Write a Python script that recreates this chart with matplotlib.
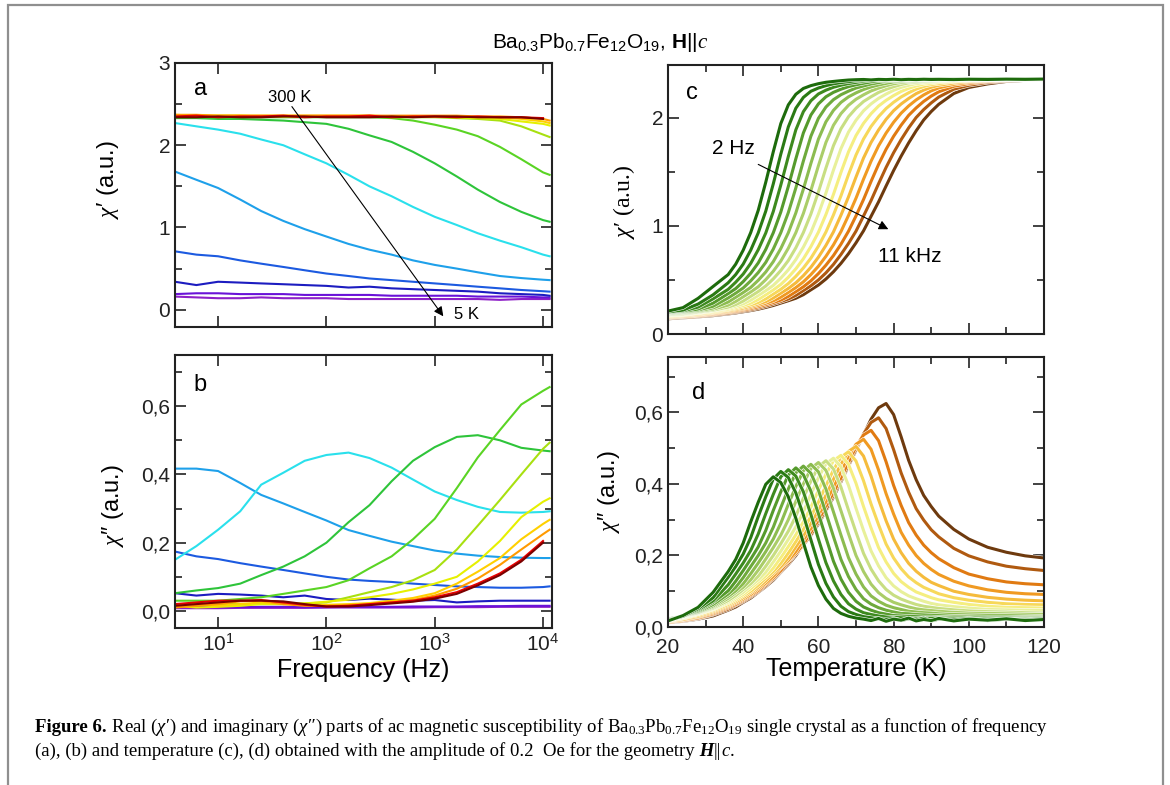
import numpy as np
import matplotlib
matplotlib.use('Agg')
import matplotlib.pyplot as plt
import matplotlib.patheffects as pe
from matplotlib.ticker import MultipleLocator, FixedLocator, NullLocator, FuncFormatter, LogFormatterSciNotation
from matplotlib.patches import Rectangle

plt.rcParams['font.family'] = ['Liberation Sans', 'DejaVu Sans']
plt.rcParams['mathtext.fontset'] = 'custom'
plt.rcParams['mathtext.rm'] = 'Liberation Sans'
plt.rcParams['mathtext.it'] = 'Liberation Serif:italic'
plt.rcParams['mathtext.bf'] = 'Liberation Sans:bold'
plt.rcParams['mathtext.sf'] = 'Liberation Serif'

nan = np.nan

# ---- panels a, b : chi vs frequency at several temperatures (300 K -> 5 K) ----
freq = [4, 6.3, 10, 16, 25, 40, 63, 100, 160, 250, 400, 630, 1000, 1600, 2500, 4000, 6300, 10000, 11500]

a_darkred = [2.34, 2.34, 2.35, 2.34, 2.34, 2.35, 2.35, 2.34, 2.34, 2.34, 2.35, 2.34, 2.35, 2.35, 2.34, 2.34, 2.34, 2.32, nan]
a_red = [2.35, 2.36, 2.34, 2.35, 2.35, 2.36, 2.34, 2.35, 2.35, 2.36, 2.34, 2.35, 2.35, 2.34, 2.35, 2.34, 2.34, 2.33, nan]
a_orange = [2.37, 2.37, 2.36, 2.36, 2.36, 2.36, 2.36, 2.36, 2.36, 2.36, 2.36, 2.36, 2.36, 2.36, 2.35, 2.35, 2.34, 2.32, 2.30]
a_gold = [2.37, 2.36, 2.36, 2.36, 2.36, 2.36, 2.36, 2.36, 2.36, 2.36, 2.35, 2.35, 2.35, 2.35, 2.34, 2.34, 2.32, 2.29, 2.27]
a_yellow = [2.36, 2.36, 2.36, 2.36, 2.35, 2.35, 2.35, 2.35, 2.35, 2.35, 2.35, 2.35, 2.35, 2.34, 2.33, 2.32, 2.29, 2.26, 2.24]
a_ygreen = [2.35, 2.35, 2.35, 2.35, 2.35, 2.35, 2.35, 2.35, 2.35, 2.35, 2.34, 2.34, 2.34, 2.33, 2.32, 2.30, 2.23, 2.13, 2.10]
a_lgreen = [2.34, 2.34, 2.34, 2.34, 2.34, 2.34, 2.34, 2.34, 2.34, 2.34, 2.33, 2.30, 2.25, 2.19, 2.11, 1.98, 1.83, 1.67, 1.64]
a_green = [2.33, 2.33, 2.32, 2.32, 2.31, 2.30, 2.28, 2.26, 2.20, 2.12, 2.04, 1.92, 1.78, 1.62, 1.46, 1.31, 1.19, 1.09, 1.07]
a_cyan = [2.27, 2.23, 2.19, 2.14, 2.07, 2.00, 1.89, 1.78, 1.64, 1.50, 1.38, 1.25, 1.13, 1.03, 0.93, 0.84, 0.76, 0.67, 0.65]
a_lblue = [1.68, 1.58, 1.48, 1.34, 1.20, 1.08, 0.98, 0.89, 0.80, 0.73, 0.67, 0.60, 0.545, 0.50, 0.455, 0.41, 0.385, 0.365, 0.36]
a_blue = [0.71, 0.67, 0.65, 0.60, 0.56, 0.52, 0.48, 0.44, 0.41, 0.38, 0.36, 0.34, 0.32, 0.30, 0.28, 0.26, 0.24, 0.225, 0.22]
a_dblue = [0.34, 0.30, 0.34, 0.33, 0.32, 0.31, 0.30, 0.29, 0.27, 0.28, 0.26, 0.25, 0.24, 0.23, 0.22, 0.20, 0.19, 0.18, 0.17]
a_violet = [0.19, 0.20, 0.20, 0.19, 0.19, 0.19, 0.18, 0.18, 0.18, 0.18, 0.17, 0.17, 0.17, 0.17, 0.16, 0.16, 0.16, 0.15, 0.15]
a_purple = [0.16, 0.15, 0.14, 0.14, 0.15, 0.14, 0.14, 0.14, 0.13, 0.13, 0.13, 0.13, 0.13, 0.13, 0.13, 0.12, 0.13, 0.13, 0.13]

b_darkred = [0.015, 0.02, 0.025, 0.03, 0.03, 0.028, 0.02, 0.013, 0.013, 0.017, 0.022, 0.027, 0.036, 0.05, 0.075, 0.105, 0.145, 0.20, nan]
b_red = [0.02, 0.025, 0.03, 0.03, 0.032, 0.025, 0.018, 0.013, 0.015, 0.02, 0.025, 0.03, 0.04, 0.055, 0.08, 0.11, 0.15, 0.205, nan]
b_orange = [0.01, 0.015, 0.02, 0.028, 0.03, 0.02, 0.015, 0.015, 0.017, 0.02, 0.025, 0.032, 0.045, 0.065, 0.095, 0.135, 0.18, 0.225, 0.238]
b_gold = [0.02, 0.02, 0.015, 0.02, 0.025, 0.02, 0.018, 0.018, 0.02, 0.023, 0.03, 0.038, 0.052, 0.08, 0.115, 0.155, 0.21, 0.255, 0.267]
b_yellow = [0.015, 0.01, 0.012, 0.015, 0.02, 0.02, 0.022, 0.027, 0.033, 0.04, 0.05, 0.063, 0.08, 0.10, 0.145, 0.205, 0.275, 0.32, 0.33]
b_ygreen = [0.02, 0.02, 0.02, 0.02, 0.02, 0.02, 0.022, 0.025, 0.04, 0.055, 0.07, 0.09, 0.12, 0.18, 0.25, 0.325, 0.40, 0.475, 0.493]
b_lgreen = [0.03, 0.03, 0.03, 0.035, 0.04, 0.05, 0.06, 0.07, 0.09, 0.125, 0.16, 0.21, 0.27, 0.36, 0.45, 0.53, 0.605, 0.645, 0.656]
b_green = [0.052, 0.06, 0.067, 0.08, 0.105, 0.13, 0.16, 0.20, 0.26, 0.31, 0.38, 0.44, 0.48, 0.51, 0.515, 0.50, 0.478, 0.47, 0.468]
b_cyan = [0.15, 0.19, 0.238, 0.292, 0.37, 0.405, 0.44, 0.457, 0.464, 0.448, 0.42, 0.385, 0.35, 0.325, 0.305, 0.29, 0.288, 0.29, 0.292]
b_lblue = [0.417, 0.417, 0.41, 0.375, 0.34, 0.315, 0.29, 0.265, 0.237, 0.22, 0.203, 0.19, 0.177, 0.168, 0.162, 0.158, 0.156, 0.155, 0.155]
b_blue = [0.174, 0.16, 0.152, 0.14, 0.13, 0.12, 0.11, 0.10, 0.092, 0.088, 0.085, 0.08, 0.076, 0.072, 0.07, 0.068, 0.068, 0.07, 0.072]
b_dblue = [0.052, 0.045, 0.05, 0.048, 0.045, 0.04, 0.045, 0.035, 0.032, 0.036, 0.033, 0.03, 0.032, 0.025, 0.028, 0.03, 0.03, 0.03, 0.03]
b_violet = [0.012, 0.012, 0.011, 0.011, 0.012, 0.012, 0.011, 0.011, 0.012, 0.012, 0.012, 0.013, 0.013, 0.013, 0.014, 0.014, 0.015, 0.015, 0.015]
b_purple = [0.008, 0.008, 0.008, 0.009, 0.009, 0.009, 0.009, 0.01, 0.01, 0.01, 0.01, 0.01, 0.011, 0.011, 0.011, 0.012, 0.012, 0.012, 0.012]

# drawing order: low temperature first, hot curves on top
freq_series = [
    (a_purple, b_purple, '#8e20c8'),
    (a_violet, b_violet, '#6a12d8'),
    (a_dblue, b_dblue, '#1c1cc0'),
    (a_blue, b_blue, '#1c5ae0'),
    (a_lblue, b_lblue, '#1ea0ea'),
    (a_cyan, b_cyan, '#2ae0ec'),
    (a_green, b_green, '#2ec43a'),
    (a_lgreen, b_lgreen, '#5ad424'),
    (a_ygreen, b_ygreen, '#a8e010'),
    (a_yellow, b_yellow, '#e6f000'),
    (a_gold, b_gold, '#ffd000'),
    (a_orange, b_orange, '#ff9a00'),
    (a_red, b_red, '#e60000'),
    (a_darkred, b_darkred, '#7a0000'),
]

# ---- panels c, d : chi vs temperature at frequencies 2 Hz -> 11 kHz ----
temp = [20, 24, 28, 32, 36, 38, 40, 42, 44, 46, 48, 50, 52, 54, 56, 58, 60, 62, 64, 66,
        68, 70, 72, 74, 76, 78, 80, 82, 84, 86, 88, 90, 92, 96, 100, 105, 110, 115, 120]

temp_colors = ['#1d6b0c', '#2a7a14', '#3d8a1e', '#559a2c', '#6eaa3c', '#8cbc50', '#aacd68', '#c8de82',
               '#e8f09a', '#f5ee80', '#f7d85a', '#f5bb3c', '#f09a22', '#e07a12', '#b05a10', '#6e3a0e']

chi1_T = [
    [.212, .244, .33, .44, .55, .646, .776, .939, 1.145, 1.405, 1.687, 1.948, 2.121, 2.219, 2.273, 2.299, 2.317, 2.330, 2.338, 2.345, 2.351, 2.354, 2.356, 2.352, 2.357, 2.355, 2.358, 2.354, 2.357, 2.355, 2.358, 2.356, 2.357, 2.355, 2.358, 2.356, 2.359, 2.357, 2.36],
    [.205, .221, .277, .363, .474, .550, .647, .776, .936, 1.137, 1.390, 1.665, 1.917, 2.090, 2.190, 2.247, 2.277, 2.299, 2.316, 2.327, 2.336, 2.345, 2.350, 2.353, 2.355, 2.355, 2.356, 2.356, 2.357, 2.357, 2.357, 2.358, 2.358, 2.358, 2.359, 2.359, 2.36, 2.36, 2.36],
    [.201, .214, .249, .326, .413, .479, .555, .654, .780, .935, 1.134, 1.379, 1.643, 1.890, 2.058, 2.159, 2.222, 2.257, 2.284, 2.303, 2.318, 2.329, 2.340, 2.349, 2.352, 2.355, 2.355, 2.356, 2.356, 2.357, 2.357, 2.357, 2.358, 2.358, 2.358, 2.359, 2.359, 2.36, 2.36],
    [.198, .210, .231, .286, .374, .420, .485, .562, .658, .783, .937, 1.129, 1.366, 1.622, 1.861, 2.027, 2.130, 2.196, 2.237, 2.266, 2.290, 2.307, 2.321, 2.334, 2.345, 2.347, 2.351, 2.355, 2.355, 2.356, 2.356, 2.357, 2.357, 2.358, 2.358, 2.359, 2.359, 2.36, 2.36],
    [.194, .205, .222, .257, .334, .378, .426, .492, .569, .663, .786, .938, 1.124, 1.352, 1.601, 1.831, 1.996, 2.101, 2.169, 2.215, 2.248, 2.277, 2.296, 2.314, 2.327, 2.340, 2.345, 2.347, 2.349, 2.352, 2.354, 2.355, 2.355, 2.356, 2.357, 2.358, 2.359, 2.36, 2.36],
    [.189, .200, .215, .241, .296, .340, .384, .431, .497, .574, .670, .791, .937, 1.121, 1.341, 1.579, 1.803, 1.964, 2.070, 2.144, 2.195, 2.232, 2.263, 2.287, 2.305, 2.320, 2.334, 2.340, 2.345, 2.347, 2.351, 2.353, 2.355, 2.356, 2.357, 2.358, 2.358, 2.359, 2.36],
    [.184, .195, .208, .230, .267, .301, .345, .389, .437, .503, .581, .675, .794, .938, 1.116, 1.328, 1.557, 1.773, 1.932, 2.040, 2.117, 2.173, 2.214, 2.250, 2.276, 2.298, 2.316, 2.329, 2.336, 2.340, 2.345, 2.349, 2.351, 2.354, 2.355, 2.356, 2.357, 2.358, 2.359],
    [.179, .188, .203, .221, .249, .272, .305, .349, .393, .444, .510, .588, .680, .798, .939, 1.111, 1.315, 1.536, 1.743, 1.900, 2.011, 2.090, 2.152, 2.196, 2.236, 2.265, 2.289, 2.309, 2.325, 2.331, 2.338, 2.342, 2.347, 2.351, 2.355, 2.356, 2.357, 2.358, 2.359],
    [.174, .182, .198, .216, .240, .258, .280, .313, .357, .401, .450, .517, .594, .689, .804, .939, 1.110, 1.304, 1.517, 1.716, 1.869, 1.979, 2.066, 2.130, 2.181, 2.221, 2.256, 2.283, 2.302, 2.318, 2.327, 2.333, 2.340, 2.349, 2.353, 2.355, 2.356, 2.357, 2.358],
    [.171, .179, .193, .208, .230, .246, .264, .286, .319, .363, .408, .459, .525, .603, .696, .809, .942, 1.106, 1.292, 1.496, 1.686, 1.837, 1.950, 2.039, 2.110, 2.163, 2.207, 2.245, 2.274, 2.296, 2.313, 2.322, 2.331, 2.342, 2.349, 2.353, 2.355, 2.356, 2.357],
    [.165, .174, .185, .201, .223, .236, .252, .270, .292, .325, .370, .414, .467, .534, .611, .702, .813, .944, 1.102, 1.279, 1.475, 1.657, 1.805, 1.921, 2.012, 2.087, 2.145, 2.194, 2.233, 2.267, 2.291, 2.309, 2.318, 2.336, 2.345, 2.351, 2.354, 2.356, 2.357],
    [.160, .169, .180, .196, .214, .227, .240, .258, .278, .300, .334, .378, .422, .474, .540, .618, .711, .820, .945, 1.100, 1.269, 1.453, 1.629, 1.773, 1.889, 1.987, 2.067, 2.129, 2.180, 2.225, 2.258, 2.284, 2.302, 2.324, 2.338, 2.349, 2.353, 2.356, 2.357],
    [.156, .163, .174, .189, .207, .218, .232, .247, .265, .285, .307, .341, .385, .430, .483, .550, .627, .719, .825, .948, 1.097, 1.257, 1.433, 1.599, 1.742, 1.860, 1.960, 2.044, 2.111, 2.167, 2.213, 2.251, 2.278, 2.311, 2.329, 2.344, 2.351, 2.354, 2.356],
    [.152, .161, .170, .183, .201, .210, .223, .236, .252, .272, .292, .314, .348, .392, .437, .492, .559, .637, .726, .831, .951, 1.093, 1.245, 1.412, 1.570, 1.710, 1.830, 1.933, 2.024, 2.093, 2.153, 2.202, 2.242, 2.293, 2.318, 2.338, 2.349, 2.353, 2.355],
    [.148, .154, .163, .177, .192, .203, .214, .226, .241, .259, .279, .301, .324, .357, .402, .446, .500, .566, .644, .736, .838, .952, 1.092, 1.235, 1.391, 1.542, 1.678, 1.799, 1.908, 2.004, 2.077, 2.139, 2.193, 2.266, 2.302, 2.329, 2.344, 2.351, 2.353],
    [.141, .150, .159, .170, .186, .195, .206, .217, .230, .246, .264, .286, .308, .331, .364, .409, .453, .509, .576, .654, .743, .844, .955, 1.089, 1.223, 1.370, 1.513, 1.646, 1.769, 1.881, 1.981, 2.059, 2.126, 2.226, 2.282, 2.315, 2.338, 2.348, 2.353],
]

chi2_T = [
    [.017, .032, .055, .097, .155, .189, .235, .294, .349, .399, .420, .404, .364, .304, .236, .168, .116, .078, .052, .038, .030, .025, .022, .018, .024, .016, .022, .019, .025, .017, .021, .018, .024, .017, .022, .019, .023, .018, .021],
    [.019, .030, .051, .082, .139, .169, .204, .250, .309, .364, .414, .435, .418, .375, .313, .244, .175, .122, .084, .058, .043, .035, .029, .026, .023, .022, .024, .018, .023, .020, .025, .017, .022, .020, .024, .018, .022, .020, .023],
    [.020, .030, .048, .073, .118, .148, .179, .214, .260, .317, .371, .420, .440, .422, .378, .315, .246, .180, .129, .091, .065, .050, .040, .035, .031, .028, .027, .026, .025, .025, .024, .024, .024, .023, .023, .022, .022, .022, .022],
    [.022, .030, .045, .069, .101, .128, .158, .190, .224, .270, .326, .378, .425, .445, .426, .380, .317, .250, .184, .134, .097, .072, .056, .047, .040, .036, .032, .031, .030, .029, .028, .028, .027, .026, .026, .025, .025, .024, .024],
    [.022, .030, .043, .063, .092, .111, .138, .169, .200, .235, .279, .334, .386, .431, .450, .430, .383, .319, .253, .189, .141, .105, .079, .064, .054, .047, .042, .038, .037, .035, .034, .033, .032, .030, .029, .028, .028, .027, .027],
    [.023, .030, .041, .059, .086, .101, .121, .149, .179, .211, .246, .290, .343, .393, .437, .455, .434, .386, .322, .257, .194, .148, .112, .087, .072, .061, .054, .049, .044, .042, .040, .039, .037, .035, .034, .033, .032, .031, .030],
    [.022, .029, .040, .056, .080, .096, .111, .132, .159, .190, .222, .257, .300, .351, .400, .443, .460, .438, .388, .325, .261, .200, .155, .120, .096, .080, .069, .062, .056, .051, .048, .046, .044, .041, .039, .038, .037, .036, .035],
    [.021, .029, .039, .053, .074, .088, .105, .121, .142, .170, .200, .233, .268, .310, .360, .408, .448, .465, .442, .391, .327, .265, .206, .162, .129, .105, .089, .078, .070, .063, .058, .055, .052, .048, .045, .043, .042, .040, .039],
    [.020, .027, .037, .051, .070, .083, .097, .115, .132, .153, .182, .212, .245, .280, .322, .371, .417, .456, .472, .448, .396, .332, .270, .213, .171, .138, .115, .099, .087, .079, .072, .066, .062, .057, .053, .049, .048, .047, .046],
    [.018, .025, .036, .049, .067, .078, .091, .107, .126, .143, .165, .194, .225, .258, .294, .335, .382, .427, .465, .480, .455, .402, .337, .277, .222, .182, .150, .127, .111, .098, .090, .082, .076, .069, .063, .058, .055, .054, .053],
    [.017, .024, .033, .046, .063, .074, .087, .100, .117, .137, .155, .178, .207, .239, .273, .309, .349, .395, .439, .475, .490, .464, .409, .344, .286, .232, .193, .163, .140, .124, .111, .102, .093, .082, .075, .069, .065, .063, .062],
    [.016, .021, .030, .043, .060, .070, .082, .096, .111, .129, .150, .169, .193, .224, .255, .290, .327, .368, .413, .456, .491, .505, .478, .422, .356, .297, .246, .208, .178, .156, .139, .125, .116, .100, .091, .083, .078, .075, .073],
    [.015, .020, .028, .040, .057, .067, .078, .091, .107, .123, .142, .166, .186, .211, .243, .275, .312, .350, .391, .435, .478, .511, .525, .497, .439, .373, .316, .265, .229, .200, .178, .161, .147, .128, .115, .104, .097, .093, .091],
    [.013, .018, .025, .037, .054, .063, .075, .088, .102, .120, .137, .158, .184, .205, .232, .265, .299, .337, .376, .417, .461, .504, .537, .550, .521, .462, .396, .340, .292, .257, .229, .208, .191, .166, .148, .135, .126, .121, .118],
    [.013, .017, .024, .035, .050, .061, .072, .085, .099, .116, .135, .155, .178, .206, .229, .258, .293, .328, .369, .411, .453, .497, .540, .572, .585, .555, .496, .431, .377, .331, .299, .272, .252, .220, .199, .182, .170, .163, .158],
    [.012, .016, .022, .031, .047, .056, .069, .081, .097, .113, .131, .153, .175, .200, .231, .256, .288, .325, .363, .406, .450, .494, .538, .581, .613, .625, .594, .532, .466, .412, .368, .337, .310, .273, .246, .223, .209, .199, .193],
]

W, H = 1170, 785
fig = plt.figure(figsize=(W / 100, H / 100), dpi=100)

def box(l, r, t, b):
    return [l / W, 1 - b / H, (r - l) / W, (b - t) / H]

ax_a = fig.add_axes(box(175, 552, 63, 327))
ax_b = fig.add_axes(box(175, 552, 355, 628))
ax_c = fig.add_axes(box(668, 1044, 65, 334))
ax_d = fig.add_axes(box(668, 1044, 357, 627))

comma = FuncFormatter(lambda v, p: f"{v:.1f}".replace('.', ','))

for ax in (ax_a, ax_b, ax_c, ax_d):
    ax.tick_params(which='both', direction='in', top=True, right=True, labelsize=15, width=1.2, colors='#222222')
    ax.tick_params(which='major', length=8)
    ax.tick_params(which='minor', length=5)
    for s in ax.spines.values():
        s.set_linewidth(1.5)
        s.set_color('#222222')

# frequency panels
for a_vals, b_vals, col in freq_series:
    ax_a.plot(freq, a_vals, color=col, lw=1.5)
    ax_b.plot(freq, b_vals, color=col, lw=1.5)

for ax in (ax_a, ax_b):
    ax.set_xscale('log')
    ax.set_xlim(4, 12100)
    ax.xaxis.set_major_locator(FixedLocator([10, 100, 1000, 10000]))
    ax.xaxis.set_minor_locator(NullLocator())
ax_b.xaxis.set_major_formatter(LogFormatterSciNotation())
ax_a.tick_params(labelbottom=False)

ax_a.set_ylim(-0.21, 3.0)
ax_a.yaxis.set_major_locator(MultipleLocator(1))
ax_a.yaxis.set_minor_locator(MultipleLocator(0.5))
ax_b.set_ylim(-0.05, 0.75)
ax_b.yaxis.set_major_locator(MultipleLocator(0.2))
ax_b.yaxis.set_minor_locator(MultipleLocator(0.1))
ax_b.yaxis.set_major_formatter(comma)

ax_a.set_ylabel("$\\chi$\u2032 (a.u.)", fontsize=17)
ax_a.yaxis.set_label_coords(-0.143, 0.56)
ax_b.set_ylabel("$\\chi$\u2033 (a.u.)", fontsize=17)
ax_b.yaxis.set_label_coords(-0.13, 0.45)
ax_b.set_xlabel('Frequency (Hz)', fontsize=18, labelpad=2)

ax_a.text(0.05, 0.9, 'a', transform=ax_a.transAxes, fontsize=17, ha='left', va='center')
ax_b.text(0.05, 0.89, 'b', transform=ax_b.transAxes, fontsize=17, ha='left', va='center')

ax_a.annotate('', xy=(1200, -0.08), xytext=(48, 2.47),
              arrowprops=dict(arrowstyle='-|>', color='black', lw=0.8, mutation_scale=14, shrinkA=0, shrinkB=0))
ax_a.text(46, 2.58, '300 K', fontsize=12, ha='center', va='center')
ax_a.text(1500, -0.06, '5 K', fontsize=12, ha='left', va='center')

# temperature panels (high frequency first so that green lies on top)
edge = [pe.Stroke(linewidth=3.0, foreground='white'), pe.Normal()]
for k in range(len(chi1_T) - 1, -1, -1):
    ax_c.plot(temp, chi1_T[k], color=temp_colors[k], lw=2.2, path_effects=edge)
    ax_d.plot(temp, chi2_T[k], color=temp_colors[k], lw=2.2, path_effects=edge)

for ax in (ax_c, ax_d):
    ax.set_xlim(20, 120)
    ax.xaxis.set_major_locator(MultipleLocator(20))
    ax.xaxis.set_minor_locator(MultipleLocator(10))
ax_c.tick_params(labelbottom=False)
ax_d.tick_params(axis='x', pad=8)

ax_c.set_ylim(0, 2.49)
ax_c.yaxis.set_major_locator(MultipleLocator(1))
ax_c.yaxis.set_minor_locator(MultipleLocator(0.5))
ax_d.set_ylim(0, 0.755)
ax_d.yaxis.set_major_locator(MultipleLocator(0.2))
ax_d.yaxis.set_minor_locator(MultipleLocator(0.1))
ax_d.yaxis.set_major_formatter(comma)

ax_c.set_ylabel("$\\chi$\u2032 (a.u.)", fontsize=17, family=['Liberation Serif', 'DejaVu Serif'])
ax_c.yaxis.set_label_coords(-0.082, 0.49)
ax_d.set_ylabel("$\\chi$\u2033 (a.u.)", fontsize=17)
ax_d.yaxis.set_label_coords(-0.122, 0.5)
ax_d.set_xlabel('Temperature (K)', fontsize=18, labelpad=0)

ax_c.text(0.048, 0.895, 'c', transform=ax_c.transAxes, fontsize=17, ha='left', va='center')
ax_d.text(0.065, 0.867, 'd', transform=ax_d.transAxes, fontsize=17, ha='left', va='center')

ax_c.annotate('', xy=(78.6, 0.97), xytext=(44.0, 1.57),
              arrowprops=dict(arrowstyle='-|>', color='black', lw=0.8, mutation_scale=14, shrinkA=0, shrinkB=0))
ax_c.text(37.4, 1.72, '2 Hz', fontsize=15, ha='center', va='center')
ax_c.text(84.4, 0.72, '11 kHz', fontsize=15, ha='center', va='center')

# title
fig.text(600 / W, 1 - 42 / H, r"Ba$_{0.3}$Pb$_{0.7}$Fe$_{12}$O$_{19}$, $\mathbf{H}||$$\mathit{c}$",
         fontsize=15, ha='center', va='center')

# outer frame
fig.add_artist(Rectangle((8 / W, -0.02), (1163 - 8) / W, 1 - 5 / H + 0.02, transform=fig.transFigure,
                         fill=False, edgecolor='#8f8f8f', lw=1.6))

# caption, drawn piece by piece
renderer = fig.canvas.get_renderer()
serif = ['Liberation Serif', 'DejaVu Serif']
cap_size = 13.5

def put_pieces(x, y, pieces):
    for s, kw in pieces:
        t = fig.text(x, y, s, fontsize=cap_size, family=serif, va='baseline', **kw)
        x += t.get_window_extent(renderer).width / W

put_pieces(35 / W, 1 - 732 / H, [
    ('Figure 6.', dict(weight='bold')),
    (" Real ($\\chi$\u2032) and imaginary ($\\chi$\u2033) parts of ac magnetic susceptibility of "
     r"Ba$_{\mathsf{0.3}}$Pb$_{\mathsf{0.7}}$Fe$_{\mathsf{12}}$O$_{\mathsf{19}}$"
     " single crystal as a function of frequency", {}),
])
put_pieces(35 / W, 1 - 756 / H, [
    ('(a), (b) and temperature (c), (d) obtained with the amplitude of 0.2  Oe for the geometry', {}),
    (' H', dict(weight='bold', style='italic')),
    ('||', {}),
    ('c', dict(style='italic')),
    ('.', {}),
])

fig.savefig('out.png', dpi=100)
